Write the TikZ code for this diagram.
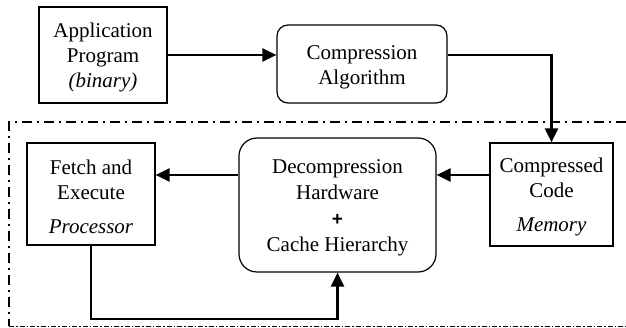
\documentclass[tikz,border=0pt]{standalone}
\usepackage{fontspec}
\setmainfont{Liberation Serif}
\newfontfamily\timesfont{Liberation Serif}
\newfontfamily\plusfont{Liberation Sans}
\usetikzlibrary{arrows.meta}
\newcommand{\topstrut}{\rule{0pt}{20.5pt}}
\tikzset{
  box/.style={draw=black, line width=1.2pt, align=center, inner sep=0pt,
    font=\timesfont\fontsize{21}{25}\selectfont},
  rbox/.style={box, rounded corners=14pt},
  arr/.style={line width=2.3pt, -{Triangle[length=14pt,width=13pt]}},
  border/.style={line width=1.6pt, dash pattern=on 10pt off 5pt on 2pt off 5pt},
  borderb/.style={line width=1.6pt, dash pattern=on 5pt off 2pt on 1.5pt off 2pt}
}
\begin{document}
\begin{tikzpicture}[x=1pt,y=-1pt]
\useasboundingbox (0,0) rectangle (626,328);
% dashed border
\coordinate (tl) at (9,122);
\coordinate (tr) at (626,122);
\coordinate (bl) at (9,326.5);
\coordinate (br) at (626,326.5);
\draw[border] (tr) -- (tl) -- (bl);
\draw[borderb] (bl) -- (br);
% nodes
\node[box, minimum width=128pt, minimum height=96pt] (app) at (103,55)
  {\topstrut Application\\Program\\\textit{(binary)}};
\node[rbox, rounded corners=11pt, minimum width=170pt, minimum height=78pt] (comp) at (362,64)
  {\topstrut Compression\\Algorithm};
\node[box, minimum width=123pt, minimum height=103pt] (code) at (551.5,194.5)
  {\topstrut Compressed\\Code\\[9pt]\textit{Memory}};
\node[rbox, rounded corners=18pt, minimum width=197pt, minimum height=134pt] (dec) at (337.5,205)
  {\topstrut Decompression\\[1pt]Hardware\\[1pt]{\plusfont\bfseries\fontsize{19}{25}\selectfont +}\\[1pt]Cache Hierarchy};
\node[box, minimum width=128pt, minimum height=102pt] (fetch) at (91,194)
  {\topstrut Fetch and\\Execute\\[9pt]\textit{Processor}};
% connectors
\coordinate (mid) at (0,175);
\coordinate (low) at (0,319);
\draw[arr] (app.east) -- (app.east -| comp.west);
\draw[arr] (comp.east |- app.east) -| (code.north);
\draw[arr] (code.west |- mid) -- (dec.east |- mid);
\draw[arr] (dec.west |- mid) -- (fetch.east |- mid);
\draw[arr] (fetch.south) -- (fetch.south |- low) -| (dec.south);
\end{tikzpicture}
\end{document}
